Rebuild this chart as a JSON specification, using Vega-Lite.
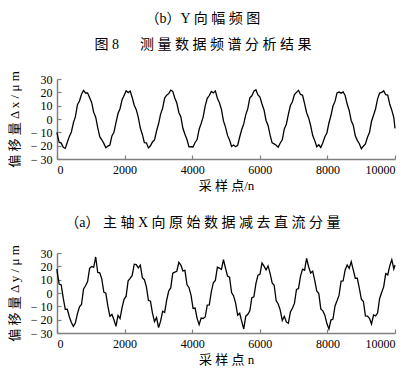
{
"$schema": "https://vega.github.io/schema/vega-lite/v6.json",
"background": "white",
"padding": {"left": 8, "top": 12, "right": 5, "bottom": 5},
"config": {
  "font": "Liberation Serif, Noto Sans CJK SC",
  "view": {"stroke": null},
  "axis": {"grid": false, "domainColor": "#808080", "domainWidth": 1.5, "tickColor": "#808080", "tickSize": -4, "tickWidth": 1.2, "labelPadding": 9, "labelFont": "Liberation Serif", "labelFontSize": 12, "labelColor": "#000", "titleFont": "Liberation Serif, Noto Sans CJK SC", "titleFontSize": 13, "titleFontWeight": "normal", "titleColor": "#000"},
  "axisY": {"titlePadding": 9},
  "axisX": {"titlePadding": 4},
  "title": {"font": "Liberation Serif, Noto Sans CJK SC", "fontSize": 14, "fontWeight": "normal", "color": "#000"},
  "concat": {"spacing": 24}
},
"title": {"text": ["（b）Y 向 幅 频 图", "图 8\u3000\u00a0 测 量 数 据 频 谱 分 析 结 果"], "lineHeight": 26, "anchor": "middle", "offset": 18},
"datasets": {"d": [
{"t":0,"x":-10,"y":18},{"t":5,"x":-11.2,"y":15.8},{"t":65,"x":-17.5,"y":6.7},{"t":125,"x":-18.1,"y":6.1},{"t":185,"x":-21.2,"y":-3.9},{"t":245,"x":-22.0,"y":-12.3},{"t":305,"x":-17.4,"y":-12.2},{"t":365,"x":-13.1,"y":-17.8},{"t":425,"x":-9.7,"y":-22.1},{"t":485,"x":-2.9,"y":-25.0},{"t":545,"x":1.8,"y":-22.3},{"t":605,"x":10.7,"y":-15.5},{"t":665,"x":13.5,"y":-10.3},{"t":725,"x":18.6,"y":-8.6},{"t":785,"x":21.5,"y":3.0},{"t":845,"x":19.5,"y":5.4},{"t":905,"x":19.6,"y":8.6},{"t":965,"x":15.9,"y":18.5},{"t":1025,"x":12.4,"y":19.9},{"t":1085,"x":5.1,"y":19.3},{"t":1145,"x":1.4,"y":27.0},{"t":1205,"x":-6.5,"y":15.4},{"t":1265,"x":-13.3,"y":15.2},{"t":1325,"x":-15.6,"y":10.6},{"t":1385,"x":-18.3,"y":0.7},{"t":1445,"x":-21.5,"y":-0.1},{"t":1505,"x":-20.3,"y":-9.9},{"t":1565,"x":-19.5,"y":-17.5},{"t":1625,"x":-12.7,"y":-16.1},{"t":1685,"x":-9.9,"y":-20.1},{"t":1745,"x":-2.7,"y":-25.0},{"t":1805,"x":4.1,"y":-16.8},{"t":1865,"x":7.7,"y":-19.2},{"t":1925,"x":14.4,"y":-10.9},{"t":1985,"x":17.7,"y":-4.7},{"t":2045,"x":21.1,"y":-2.4},{"t":2105,"x":19.8,"y":9.2},{"t":2165,"x":20.9,"y":11.0},{"t":2225,"x":16.1,"y":13.2},{"t":2285,"x":10.3,"y":21.6},{"t":2345,"x":7.0,"y":21.3},{"t":2405,"x":1.2,"y":18.9},{"t":2465,"x":-6.8,"y":20.9},{"t":2525,"x":-11.6,"y":11.5},{"t":2585,"x":-17.7,"y":10.0},{"t":2645,"x":-17.9,"y":4.6},{"t":2705,"x":-21.7,"y":-5.5},{"t":2765,"x":-20.1,"y":-6.1},{"t":2825,"x":-17.2,"y":-15.1},{"t":2885,"x":-15.7,"y":-21.4},{"t":2945,"x":-9.0,"y":-18.4},{"t":3005,"x":-3.6,"y":-26.0},{"t":3065,"x":3.7,"y":-21.1},{"t":3125,"x":8.0,"y":-13.7},{"t":3185,"x":15.7,"y":-14.6},{"t":3245,"x":17.9,"y":-5.3},{"t":3305,"x":19.0,"y":1.5},{"t":3365,"x":21.7,"y":3.8},{"t":3425,"x":20.7,"y":14.8},{"t":3485,"x":15.8,"y":15.6},{"t":3545,"x":12.0,"y":16.3},{"t":3605,"x":4.9,"y":23.0},{"t":3665,"x":1.6,"y":20.9},{"t":3725,"x":-7.0,"y":16.6},{"t":3785,"x":-11.4,"y":17.0},{"t":3845,"x":-15.4,"y":6.3},{"t":3905,"x":-20.9,"y":4.0},{"t":3965,"x":-20.8,"y":-1.6},{"t":4025,"x":-21.0,"y":-11.5},{"t":4085,"x":-17.6,"y":-11.3},{"t":4145,"x":-15.4,"y":-19.0},{"t":4205,"x":-7.7,"y":-23.7},{"t":4265,"x":-3.4,"y":-18.8},{"t":4325,"x":1.6,"y":-19.1},{"t":4385,"x":9.9,"y":-18.0},{"t":4445,"x":15.5,"y":-9.1},{"t":4505,"x":17.6,"y":-9.0},{"t":4565,"x":20.7,"y":0.9},{"t":4625,"x":19.6,"y":7.7},{"t":4685,"x":21.1,"y":9.4},{"t":4745,"x":15.6,"y":19.4},{"t":4805,"x":12.2,"y":18.7},{"t":4865,"x":7.2,"y":17.7},{"t":4925,"x":-1.4,"y":25.0},{"t":4985,"x":-6.1,"y":18.6},{"t":5045,"x":-12.3,"y":12.7},{"t":5105,"x":-15.8,"y":11.8},{"t":5165,"x":-20.6,"y":0.3},{"t":5225,"x":-19.5,"y":-2.2},{"t":5285,"x":-20.8,"y":-7.6},{"t":5345,"x":-19.7,"y":-16.7},{"t":5405,"x":-13.5,"y":-15.2},{"t":5465,"x":-7.9,"y":-21.3},{"t":5525,"x":-3.7,"y":-27.0},{"t":5585,"x":3.3,"y":-17.4},{"t":5645,"x":7.8,"y":-16.0},{"t":5705,"x":15.9,"y":-13.4},{"t":5765,"x":17.4,"y":-3.5},{"t":5825,"x":20.9,"y":-2.8},{"t":5885,"x":21.9,"y":7.1},{"t":5945,"x":18.1,"y":13.3},{"t":6005,"x":16.5,"y":14.0},{"t":6065,"x":11.3,"y":22.5},{"t":6125,"x":6.8,"y":20.1},{"t":6185,"x":-1.1,"y":17.3},{"t":6245,"x":-4.8,"y":20.3},{"t":6305,"x":-12.1,"y":14.7},{"t":6365,"x":-17.9,"y":7.5},{"t":6425,"x":-18.7,"y":5.8},{"t":6485,"x":-19.7,"y":-5.9},{"t":6545,"x":-21.1,"y":-8.2},{"t":6605,"x":-18.0,"y":-12.8},{"t":6665,"x":-15.6,"y":-20.6},{"t":6725,"x":-7.5,"y":-17.5},{"t":6785,"x":-3.9,"y":-21.7},{"t":6845,"x":3.5,"y":-22.7},{"t":6905,"x":10.1,"y":-14.3},{"t":6965,"x":12.9,"y":-11.4},{"t":7025,"x":18.3,"y":-7.8},{"t":7085,"x":20.0,"y":2.7},{"t":7145,"x":21.5,"y":3.4},{"t":7205,"x":18.4,"y":12.7},{"t":7265,"x":17.8,"y":17.9},{"t":7325,"x":11.5,"y":17.1},{"t":7385,"x":4.7,"y":26.0},{"t":7445,"x":0.8,"y":19.7},{"t":7505,"x":-5.0,"y":15.0},{"t":7565,"x":-12.4,"y":16.4},{"t":7625,"x":-16.2,"y":9.5},{"t":7685,"x":-20.8,"y":1.5},{"t":7745,"x":-19.3,"y":-0.4},{"t":7805,"x":-21.3,"y":-11.9},{"t":7865,"x":-17.8,"y":-13.4},{"t":7925,"x":-13.3,"y":-16.7},{"t":7985,"x":-10.5,"y":-22.9},{"t":8045,"x":-3.0,"y":-27.0},{"t":8105,"x":2.6,"y":-20.3},{"t":8165,"x":9.7,"y":-19.6},{"t":8225,"x":13.2,"y":-9.7},{"t":8285,"x":19.6,"y":-5.8},{"t":8345,"x":20.2,"y":-1.6},{"t":8405,"x":19.4,"y":8.9},{"t":8465,"x":20.3,"y":9.0},{"t":8525,"x":17.6,"y":17.3},{"t":8585,"x":11.2,"y":21.0},{"t":8645,"x":6.4,"y":18.5},{"t":8705,"x":-1.3,"y":23.5},{"t":8765,"x":-4.6,"y":17.4},{"t":8825,"x":-12.6,"y":11.1},{"t":8885,"x":-16.0,"y":11.2},{"t":8945,"x":-18.5,"y":3.5},{"t":9005,"x":-22.3,"y":-4.7},{"t":9065,"x":-20.4,"y":-6.4},{"t":9125,"x":-18.7,"y":-17.1},{"t":9185,"x":-13.7,"y":-17.3},{"t":9245,"x":-10.2,"y":-19.0},{"t":9305,"x":-1.7,"y":-23.3},{"t":9365,"x":2.8,"y":-16.5},{"t":9425,"x":7.6,"y":-17.2},{"t":9485,"x":15.1,"y":-15.0},{"t":9545,"x":19.4,"y":-4.1},{"t":9605,"x":19.9,"y":0.4},{"t":9665,"x":21.1,"y":4.6},{"t":9725,"x":18.2,"y":14.5},{"t":9785,"x":18.0,"y":13.6},{"t":9845,"x":11.0,"y":20.4},{"t":9905,"x":6.6,"y":25.0},{"t":9965,"x":1.0,"y":18.1},{"t":10000,"x":-7,"y":21}
]},
"vconcat": [
  {
    "width": 338, "height": 80,
    "data": {"name": "d"},
    "mark": {"type": "line", "color": "black", "strokeWidth": 1.3},
    "encoding": {
      "x": {"field": "t", "type": "quantitative", "scale": {"domain": [0, 10000], "nice": false},
            "axis": {"values": [0, 2000, 4000, 6000, 8000, 10000], "format": "d", "title": "采 样 点/n"}},
      "y": {"field": "x", "type": "quantitative", "scale": {"domain": [-30, 30], "nice": false},
            "axis": {"values": [-30, -20, -10, 0, 10, 20, 30], "labelExpr": "datum.value < 0 ? '− ' + abs(datum.value) : datum.label", "title": "偏 移 量 Δ x / μ m"}}
    }
  },
  {
    "width": 338, "height": 80,
    "title": {"text": "（a） 主 轴 X 向 原 始 数 据 减 去 直 流 分 量", "anchor": "middle", "frame": "bounds", "offset": 14},
    "data": {"name": "d"},
    "mark": {"type": "line", "color": "black", "strokeWidth": 1.3},
    "encoding": {
      "x": {"field": "t", "type": "quantitative", "scale": {"domain": [0, 10000], "nice": false},
            "axis": {"values": [0, 2000, 4000, 6000, 8000, 10000], "format": "d", "title": "采 样 点 n"}},
      "y": {"field": "y", "type": "quantitative", "scale": {"domain": [-30, 30], "nice": false},
            "axis": {"values": [-30, -20, -10, 0, 10, 20, 30], "labelExpr": "datum.value < 0 ? '− ' + abs(datum.value) : datum.label", "title": "偏 移 量 Δ y / μ m"}}
    }
  }
]
}
